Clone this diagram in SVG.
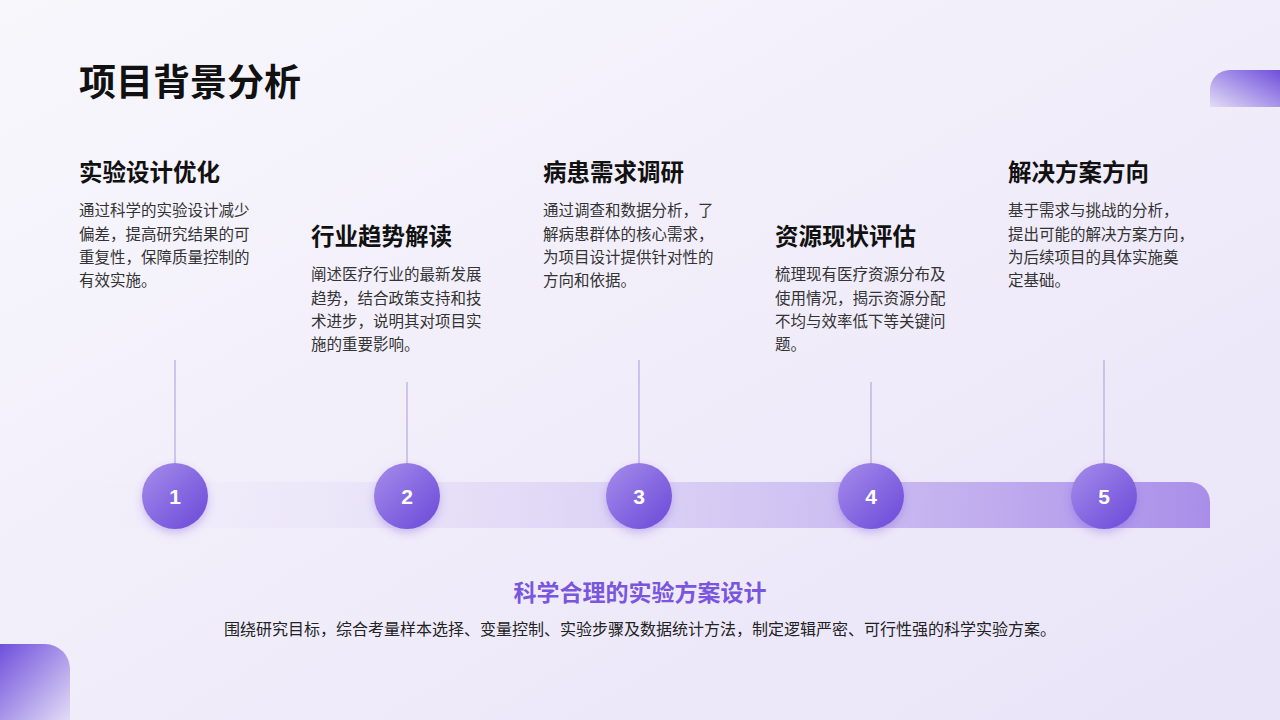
<svg xmlns="http://www.w3.org/2000/svg" width="1280" height="720" viewBox="0 0 1280 720">
<defs>
<linearGradient id="bg" x1="0" y1="0" x2="1" y2="1"><stop offset="0" stop-color="#f8f7fc"/><stop offset="1" stop-color="#e9e3f8"/></linearGradient>
<linearGradient id="bar" x1="0" y1="0" x2="1" y2="0"><stop offset="0" stop-color="#e8e2f8" stop-opacity="0"/><stop offset="1" stop-color="#a98ee9"/></linearGradient>
<linearGradient id="circ" x1="0" y1="0" x2="1" y2="1"><stop offset="0" stop-color="#a68ceb"/><stop offset="1" stop-color="#6a48d8"/></linearGradient>
<linearGradient id="tr" x1="1" y1="0" x2="0" y2="1"><stop offset="0" stop-color="#6f4fdc"/><stop offset="1" stop-color="#e3dcf6"/></linearGradient>
<linearGradient id="bl" x1="0" y1="0" x2="1" y2="1"><stop offset="0" stop-color="#6f4fdc"/><stop offset="1" stop-color="#e3dcf6"/></linearGradient>
<filter id="sh" x="-30%" y="-30%" width="160%" height="170%"><feDropShadow dx="0" dy="4" stdDeviation="4" flood-color="#6a48d8" flood-opacity="0.3"/></filter>
</defs>
<style>
text{font-family:"Noto Sans CJK SC","Noto Sans",sans-serif}
.h{font-size:23.5px;font-weight:700;fill:#111}
.d{font-size:15.5px;fill:#333}
.n{font-size:21px;font-weight:700;fill:#fff;text-anchor:middle;font-family:"Liberation Sans",sans-serif}
.v{stroke:#a99bd6;stroke-width:1}
</style>
<rect width="1280" height="720" fill="url(#bg)"/>
<path d="M1230 70H1280V107H1210V90A20 20 0 0 1 1230 70Z" fill="url(#tr)"/>
<path d="M0 644H45A25 25 0 0 1 70 669V720H0Z" fill="url(#bl)"/>
<text x="79" y="96" font-size="37" font-weight="700" fill="#111">项目背景分析</text>
<path d="M55 482H1190A20 20 0 0 1 1210 502V528H55Z" fill="url(#bar)"/>
<g id="connectors">
<line class="v" x1="175" y1="360" x2="175" y2="463"/>
<line class="v" x1="407" y1="382" x2="407" y2="463"/>
<line class="v" x1="639" y1="360" x2="639" y2="463"/>
<line class="v" x1="871" y1="382" x2="871" y2="463"/>
<line class="v" x1="1104" y1="360" x2="1104" y2="463"/>
</g>
<g id="node1"><circle cx="175" cy="496" r="33" fill="url(#circ)" filter="url(#sh)"/><text class="n" x="175" y="504">1</text>
<text class="h" x="79" y="181">实验设计优化</text>
<text class="d"><tspan x="79" y="216">通过科学的实验设计减少</tspan><tspan x="79" y="240">偏差，提高研究结果的可</tspan><tspan x="79" y="263">重复性，保障质量控制的</tspan><tspan x="79" y="286">有效实施。</tspan></text></g>
<g id="node2"><circle cx="407" cy="496" r="33" fill="url(#circ)" filter="url(#sh)"/><text class="n" x="407" y="504">2</text>
<text class="h" x="311" y="245">行业趋势解读</text>
<text class="d"><tspan x="311" y="280">阐述医疗行业的最新发展</tspan><tspan x="311" y="304">趋势，结合政策支持和技</tspan><tspan x="311" y="327">术进步，说明其对项目实</tspan><tspan x="311" y="350">施的重要影响。</tspan></text></g>
<g id="node3"><circle cx="639" cy="496" r="33" fill="url(#circ)" filter="url(#sh)"/><text class="n" x="639" y="504">3</text>
<text class="h" x="543" y="181">病患需求调研</text>
<text class="d"><tspan x="543" y="216">通过调查和数据分析，了</tspan><tspan x="543" y="240">解病患群体的核心需求，</tspan><tspan x="543" y="263">为项目设计提供针对性的</tspan><tspan x="543" y="286">方向和依据。</tspan></text></g>
<g id="node4"><circle cx="871" cy="496" r="33" fill="url(#circ)" filter="url(#sh)"/><text class="n" x="871" y="504">4</text>
<text class="h" x="775" y="245">资源现状评估</text>
<text class="d"><tspan x="775" y="280">梳理现有医疗资源分布及</tspan><tspan x="775" y="304">使用情况，揭示资源分配</tspan><tspan x="775" y="327">不均与效率低下等关键问</tspan><tspan x="775" y="350">题。</tspan></text></g>
<g id="node5"><circle cx="1104" cy="496" r="33" fill="url(#circ)" filter="url(#sh)"/><text class="n" x="1104" y="504">5</text>
<text class="h" x="1008" y="181">解决方案方向</text>
<text class="d"><tspan x="1008" y="216">基于需求与挑战的分析，</tspan><tspan x="1008" y="240">提出可能的解决方案方向，</tspan><tspan x="1008" y="263">为后续项目的具体实施奠</tspan><tspan x="1008" y="286">定基础。</tspan></text></g>
<text x="640" y="601" text-anchor="middle" font-size="23" font-weight="700" fill="#7a55dd">科学合理的实验方案设计</text>
<text x="640" y="635" text-anchor="middle" font-size="16" fill="#222">围绕研究目标，综合考量样本选择、变量控制、实验步骤及数据统计方法，制定逻辑严密、可行性强的科学实验方案。</text>
</svg>
